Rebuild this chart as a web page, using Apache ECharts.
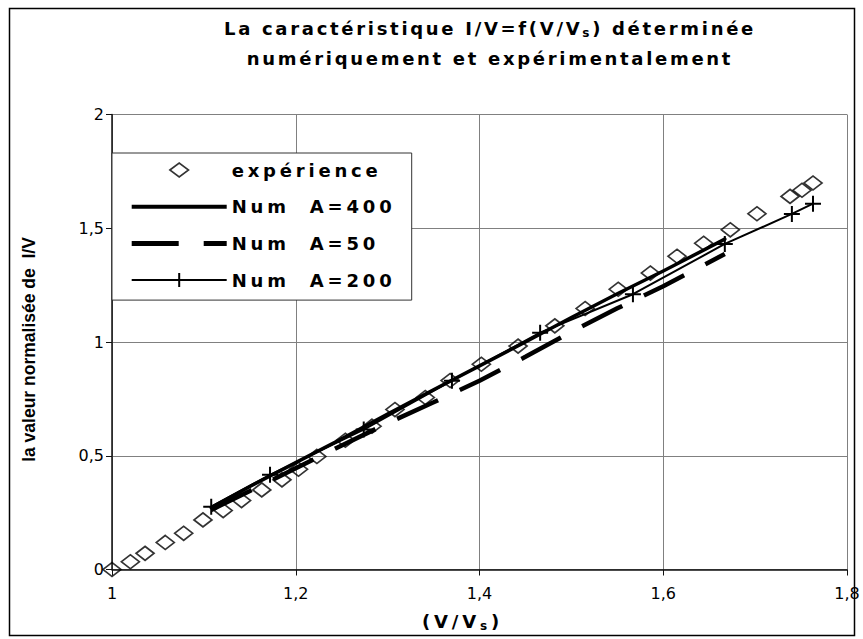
<!DOCTYPE html>
<html>
<head>
<meta charset="utf-8">
<script src="https://cdn.jsdelivr.net/npm/echarts@6/dist/echarts.min.js"></script>
<style>
html,body{margin:0;padding:0;background:#fff;}
#chart{width:863px;height:639px;}
#chart text{white-space:pre;}
#chart text[style*="DejaVu"][style*="bold"]{letter-spacing:2.7px;}
#chart text[style*="DejaVu"][style*="bold"][style*="Verdana"]{letter-spacing:3.8px;}
</style>
</head>
<body>
<div id="chart"></div>
<script>
// ---- data ----
const expX = [1.000,1.020,1.036,1.058,1.078,1.099,1.121,1.141,1.163,1.185,1.203,1.223,1.254,1.283,1.308,1.341,1.368,1.402,1.442,1.482,1.515,1.551,1.586,1.615,1.644,1.673,1.702,1.738,1.751,1.763];
const expY = [0.000,0.034,0.071,0.119,0.159,0.218,0.259,0.303,0.350,0.394,0.441,0.497,0.568,0.630,0.703,0.756,0.831,0.902,0.982,1.071,1.147,1.232,1.303,1.377,1.434,1.493,1.564,1.640,1.667,1.699];

const a400X = [1.108,1.15,1.2,1.25,1.3,1.35,1.4,1.45,1.5,1.55,1.6,1.667];
const a400Y = [0.272,0.365,0.470,0.575,0.683,0.790,0.895,1.000,1.108,1.212,1.312,1.452];

const a50X = [1.108,1.15,1.2,1.25,1.3,1.35,1.4,1.45,1.5,1.55,1.6,1.667];
const a50Y = [0.262,0.345,0.445,0.545,0.643,0.735,0.830,0.935,1.045,1.148,1.245,1.387];

const a200X = [1.108,1.172,1.274,1.370,1.466,1.567,1.667,1.740,1.763];
const a200Y = [0.276,0.416,0.615,0.830,1.041,1.210,1.431,1.563,1.608];

const xTickLabels = ['1','1,2','1,4','1,6','1,8'];
const yTickLabels = ['0','0,5','1','1,5','2'];

const seriesNames = ['expérience','Num  A=400','Num  A=50','Num  A=200'];

// ---- helpers ----
function zip(xs, ys){ return xs.map((x,i)=>[x, ys[i]]); }
const LS_T = 2.7, LS_L = 3.8;
function hp(text, ls){ return text.length*ls/2; }

const FAM_T = 'DejaVu Sans';
const FAM_L = 'DejaVu Sans, Verdana';
const t1 = 'La caractéristique I/V=f(V/V', t1s = 's', t2 = ') déterminée', t3 = 'numériquement et expérimentalement';
const n1 = '(V/V', n1s = 's', n2 = ')';

const chart = echarts.init(document.getElementById('chart'), null, {renderer:'svg'});

function tok(fam, size, lh, text, ls, top){
  return {fontFamily:fam, fontWeight:'bold', fontSize:size, color:'#000', lineHeight:lh,
          padding:[top||0, hp(text,ls), 0, hp(text,ls)]};
}

const option = {
  animation:false,
  backgroundColor:'#fff',
  title:{
    text:'{a|'+t1+'}{s|'+t1s+'}{b|'+t2+'}\n{c|'+t3+'}',
    left:490, top:13, textAlign:'center', padding:0,
    textStyle:{
      fontFamily:FAM_T, fontWeight:'bold', fontSize:18, color:'#000', lineHeight:30,
      rich:{
        a:tok(FAM_T,18,30,t1,LS_T),
        s:tok(FAM_T,12,14,t1s,LS_T,9),
        b:tok(FAM_T,18,30,t2,LS_T),
        c:tok(FAM_T,18,30,t3,LS_T)
      }
    }
  },
  legend:{
    orient:'vertical', left:112, top:153,
    itemWidth:95, itemHeight:14, itemGap:18.7,
    padding:[8,50,11,19.7],
    backgroundColor:'#fff', borderColor:'#333', borderWidth:1,
    selectedMode:false,
    textStyle:{fontFamily:FAM_L, fontWeight:'bold', fontSize:18, color:'#000', width:130, lineHeight:18},
    data:[
      {name:seriesNames[0], icon:'path://M0,6L8,0L16,6L8,12Z', itemStyle:{color:'transparent', borderColor:'#000', borderWidth:1.6}},
      {name:seriesNames[1], icon:'path://M0,0H95V4H0Z', itemStyle:{color:'#000', borderWidth:0}},
      {name:seriesNames[2], icon:'path://M0,0H47V5H0Z M72,0H95V5H72Z', itemStyle:{color:'#000', borderWidth:0}},
      {name:seriesNames[3], icon:'path://M0,6H95V8H0Z M46.5,0H48.5V14H46.5Z', itemStyle:{color:'#000', borderWidth:0}}
    ]
  },
  grid:{left:112, top:114.5, width:735, height:455, containLabel:false, outerBoundsMode:'none'},
  xAxis:{
    type:'value', min:1, max:1.8, interval:0.2,
    axisLine:{show:true, lineStyle:{color:'#111', width:1.5}},
    axisTick:{show:true, inside:false, length:6, lineStyle:{color:'#111', width:1}},
    splitLine:{show:true, lineStyle:{color:'#808080', width:1}},
    axisLabel:{
      showMinLabel:true, showMaxLabel:true,
      fontFamily:'DejaVu Sans', fontSize:16, color:'#000', margin:15.5, lineHeight:16,
      formatter:v=>xTickLabels[Math.round((v-1)/0.2)]
    },
    name:'{n|'+n1+'}{s|'+n1s+'}{m|'+n2+'}',
    nameLocation:'middle', nameGap:41.5,
    nameTextStyle:{
      fontFamily:FAM_L, fontWeight:'bold', fontSize:18, color:'#000', lineHeight:20, padding:[0,34,0,0],
      rich:{
        n:tok(FAM_L,18,20,n1,LS_L),
        s:tok(FAM_L,12,14,n1s,LS_L,9),
        m:tok(FAM_L,18,20,n2,LS_L)
      }
    }
  },
  yAxis:{
    type:'value', min:0, max:2, interval:0.5,
    axisLine:{show:true, lineStyle:{color:'#111', width:1.5}},
    axisTick:{show:true, inside:false, length:6, lineStyle:{color:'#111', width:1}},
    splitLine:{show:true, lineStyle:{color:'#808080', width:1}},
    axisLabel:{
      showMinLabel:true, showMaxLabel:true,
      fontFamily:'DejaVu Sans', fontSize:16, color:'#000', margin:8,
      formatter:v=>yTickLabels[Math.round(v/0.5)]
    },
    name:'la valeur normalisée de  I/V',
    nameLocation:'middle', nameGap:74.5, nameRotate:90,
    nameTextStyle:{fontFamily:'Liberation Sans', fontWeight:'bold', fontSize:17.5, color:'#000', lineHeight:18, padding:[0,15,0,0]}
  },
  series:[
    {
      name:seriesNames[0], type:'scatter', z:2,
      data:zip(expX, expY),
      symbol:'diamond', symbolSize:[18,14],
      itemStyle:{color:'transparent', borderColor:'#000', borderWidth:1.7}
    },
    {
      name:seriesNames[1], type:'line', z:3, color:'#000',
      data:zip(a400X, a400Y),
      symbol:'none', showSymbol:false,
      itemStyle:{color:'#000'},
      lineStyle:{color:'#000', width:3.5, cap:'round', join:'round'}
    },
    {
      name:seriesNames[2], type:'line', z:3, color:'#000',
      data:zip(a50X, a50Y),
      symbol:'none', showSymbol:false,
      itemStyle:{color:'#000'},
      lineStyle:{color:'#000', width:4.5, type:[45,24], cap:'butt'}
    },
    {
      name:seriesNames[3], type:'line', z:4, color:'#000',
      data:zip(a200X, a200Y),
      symbol:'path://M7,0H9V16H7Z M0,7H16V9H0Z', symbolSize:16, showSymbol:true, showAllSymbol:true,
      itemStyle:{color:'#000', borderWidth:0},
      lineStyle:{color:'#000', width:2}
    }
  ],
  graphic:[
    {type:'rect', silent:true, z:-10, shape:{x:9.5, y:8.5, width:845, height:627}, style:{fill:'none', stroke:'#000', lineWidth:1.5}}
  ]
};
chart.setOption(option);
</script>
</body>
</html>
